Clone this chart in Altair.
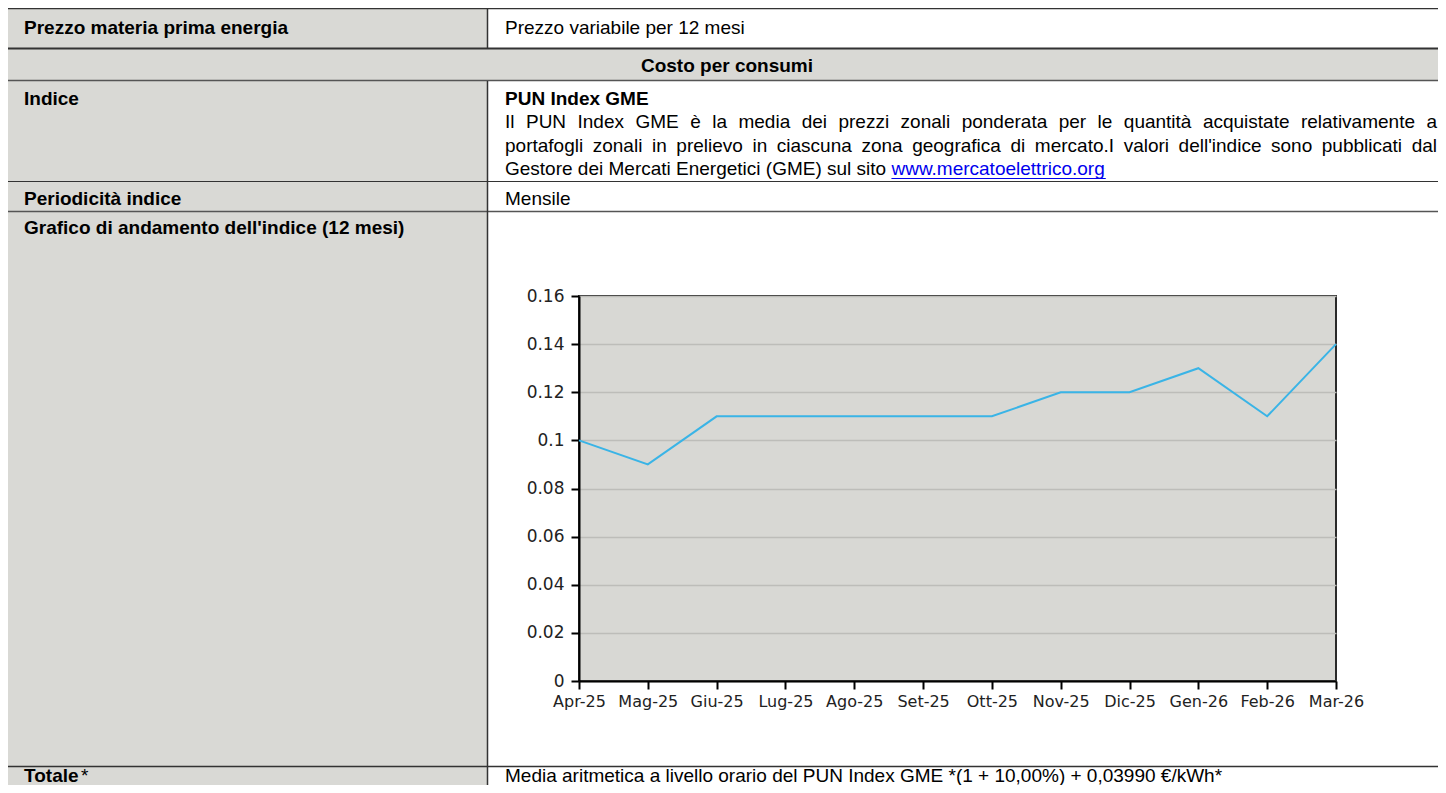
import altair as alt
import pandas as pd

# ---- data -------------------------------------------------------------
months = ["Apr-25", "Mag-25", "Giu-25", "Lug-25", "Ago-25", "Set-25",
          "Ott-25", "Nov-25", "Dic-25", "Gen-26", "Feb-26", "Mar-26"]
pun_values = [0.10, 0.09, 0.11, 0.11, 0.11, 0.11, 0.11, 0.12, 0.12, 0.13, 0.11, 0.14]
y_ticks = [0, 0.02, 0.04, 0.06, 0.08, 0.10, 0.12, 0.14, 0.16]

row_labels = ["Prezzo materia prima energia", "Indice", "Periodicità indice",
              "Grafico di andamento dell'indice (12 mesi)", "Totale"]
section_title = "Costo per consumi"
row_values = ["Prezzo variabile per 12 mesi", "PUN Index GME", "Mensile",
              "Media aritmetica a livello orario del PUN Index GME *(1 + 10,00%) + 0,03990 €/kWh*"]
desc_line1 = "Il PUN Index GME è la media dei prezzi zonali ponderata per le quantità acquistate relativamente a"
desc_line2 = "portafogli zonali in prelievo in ciascuna zona geografica di mercato.I valori dell'indice sono pubblicati dal"
desc_line3 = "Gestore dei Mercati Energetici (GME) sul sito"
link_text = "www.mercatoelettrico.org"

df = pd.DataFrame({"month": months, "value": pun_values})
one = pd.DataFrame({"k": [0]})

# ---- layout helpers (page pixel -> plot pixel) ------------------------
OX, OY = 579, 296          # page position of the plot origin
GRAY = "#D9D9D5"
LINE = "#333333"
TFONT = "Liberation Sans"
TSIZE = 19

# Arial / Liberation Sans advance widths (1/1000 em) for text justification
ARIAL = {" ": 278, "a": 556, "b": 556, "c": 500, "d": 556, "e": 556, "f": 278,
         "g": 556, "h": 556, "i": 222, "j": 222, "k": 500, "l": 222, "m": 833,
         "n": 556, "o": 556, "p": 556, "q": 556, "r": 333, "s": 500, "t": 278,
         "u": 556, "v": 500, "w": 722, "x": 500, "y": 500, "z": 500, "à": 556,
         "è": 556, ".": 278, "'": 191, "(": 333, ")": 333, "I": 278, "G": 778,
         "M": 833, "E": 667, "N": 722, "P": 667, "U": 722}


def text_width(s, size=TSIZE):
    return sum(ARIAL.get(ch, 556) for ch in s) * size / 1000.0


def box(x1, x2, y1, y2, fill):
    return alt.Chart(one).mark_rect(color=fill).encode(
        x=alt.value(x1 - OX), x2=alt.value(x2 - OX),
        y=alt.value(y1 - OY), y2=alt.value(y2 - OY))


def hline(py, x1=8, x2=1446, w=1.5, color=LINE):
    return alt.Chart(one).mark_rule(color=color, strokeWidth=w).encode(
        x=alt.value(x1 - OX), x2=alt.value(x2 - OX), y=alt.value(py - OY))


def vline(px, y1, y2, w=1.5, color=LINE):
    return alt.Chart(one).mark_rule(color=color, strokeWidth=w).encode(
        x=alt.value(px - OX), y=alt.value(y1 - OY), y2=alt.value(y2 - OY))


def txt(s, px, py, bold=False, align="left", color="#000000", size=TSIZE):
    return alt.Chart(one).mark_text(
        text=s, align=align, baseline="middle", font=TFONT, fontSize=size,
        fontWeight="bold" if bold else "normal", color=color
    ).encode(x=alt.value(px - OX), y=alt.value(py - OY))


def justified(line, py, left=505, right=1437):
    words = line.split(" ")
    widths = [text_width(w) for w in words]
    gap = (right - left - sum(widths)) / (len(words) - 1)
    out, x = [], left
    for w, wd in zip(words, widths):
        out.append(txt(w, x, py))
        x += wd + gap
    return out


layers = [
    # backgrounds
    box(8, 487, 9, 793, GRAY),
    box(8, 1446, 49, 80, GRAY),
    # grid lines of the table
    hline(8.5, w=1.5),
    hline(48.5, w=2),
    hline(80.5, w=1.5, color="#555555"),
    hline(181.5, w=1.2),
    hline(211.5, w=1.5, color="#555555"),
    hline(766.5, w=1.5),
    vline(487.5, 9, 48),
    vline(487.5, 81, 793),
    # texts
    txt(row_labels[0], 24, 28, bold=True),
    txt(row_values[0], 505, 28),
    txt(section_title, 727, 66, bold=True, align="center"),
    txt(row_labels[1], 24, 99, bold=True),
    txt(row_values[1], 505, 99, bold=True),
]
layers += justified(desc_line1, 122)
layers += justified(desc_line2, 146)
link_x = 505 + text_width(desc_line3 + " ")
layers += [
    txt(desc_line3, 505, 169),
    txt(link_text, link_x, 169, color="#0000EE"),
    hline(178.5, x1=link_x, x2=link_x + text_width(link_text), w=1, color="#0000EE"),
    txt(row_labels[2], 24, 199, bold=True),
    txt(row_values[2], 505, 199),
    txt(row_labels[3], 24, 228, bold=True),
    txt(row_labels[4], 24, 776, bold=True),
    txt("*", 81, 776),
    txt(row_values[3], 505, 776),
]

line = alt.Chart(df).mark_line(color="#3AB4E6", strokeWidth=2).encode(
    x=alt.X("month:N", sort=months,
            scale=alt.Scale(type="point", padding=0),
            axis=alt.Axis(title=None, labelAngle=0, grid=False,
                          domainColor="#000000", domainWidth=2,
                          tickColor="#000000", tickWidth=2, tickSize=8,
                          labelPadding=4, labelFont="DejaVu Sans",
                          labelFontSize=16, labelColor="#222222",
                          labelOverlap=False)),
    y=alt.Y("value:Q",
            scale=alt.Scale(domain=[0, 0.16], nice=False, zero=True),
            axis=alt.Axis(title=None, values=y_ticks, format="~g",
                          grid=True, gridColor="#BDBDB9", gridWidth=1.5,
                          domainColor="#000000", domainWidth=2,
                          tickColor="#000000", tickWidth=2, tickSize=8,
                          labelPadding=7, labelFont="DejaVu Sans",
                          labelFontSize=17, labelColor="#222222")),
)

chart = alt.layer(*layers, line).properties(
    width=757,
    height=385,
    autosize=alt.AutoSizeParams(type="none"),
    padding={"left": 571, "top": 288, "right": 102, "bottom": 104},
    background="#FFFFFF",
).configure_view(
    fill="#D8D8D4", stroke="#2A2A2A", strokeWidth=2
)

chart.save("out.html", embed_options={"renderer": "svg", "actions": False})
